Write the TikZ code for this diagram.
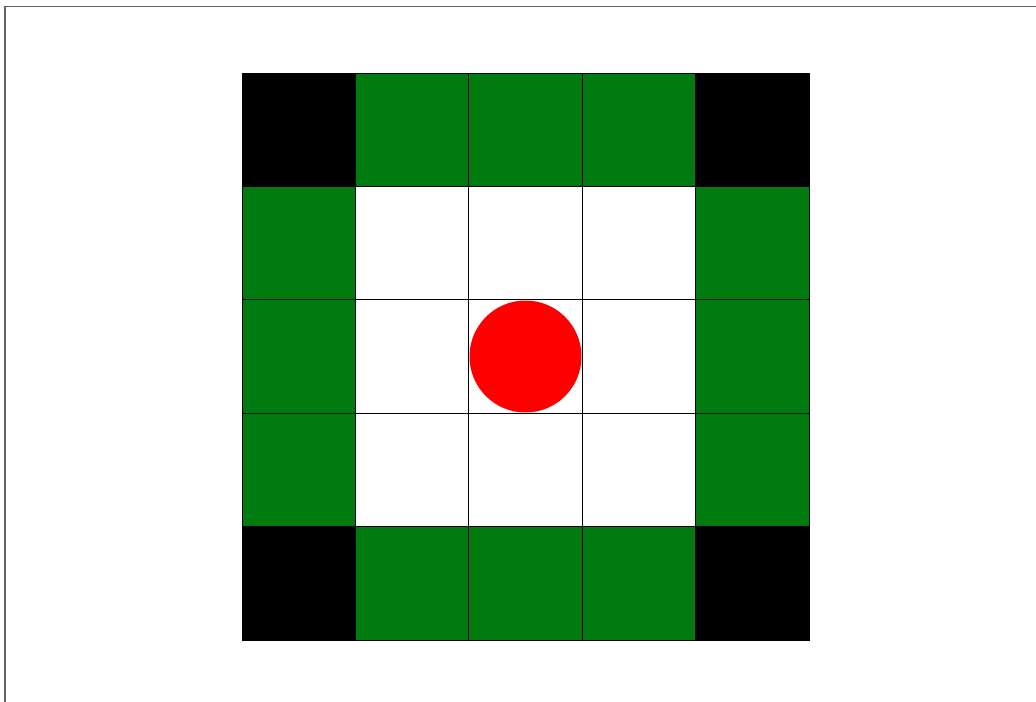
\documentclass[tikz,border=0pt]{standalone}
\usepackage{tikz}
\definecolor{boardgreen}{RGB}{0,123,15}
\definecolor{boardred}{RGB}{255,0,0}
\definecolor{framegray}{RGB}{100,100,100}
\usetikzlibrary{positioning}

\begin{document}
\begin{tikzpicture}[
  cell/.style={draw=black,line width=0.5pt,minimum size=2.268cm,inner sep=0pt,outer sep=0pt},
  token/.style={circle,fill=boardred,minimum size=2.24cm,inner sep=0pt}
]
  \useasboundingbox (0,0) rectangle (20.72,-14.02);
  \clip (0,0) rectangle (20.72,-14.02);
  \draw[framegray,line width=0.8pt] (0.1,-15) -- (0.1,-0.13) -- (21,-0.13);
  % corner cells
  \foreach \c/\r in {0/0,4/0,0/4,4/4}
    \node[cell,fill=black] (cell-\c-\r) at ({4.84+2.268*(\c+0.5)},{-1.46-2.268*(\r+0.5)}) {};
  % edge cells
  \foreach \c/\r in {1/0,2/0,3/0,1/4,2/4,3/4,0/1,0/2,0/3,4/1,4/2,4/3}
    \node[cell,fill=boardgreen] (cell-\c-\r) at ({4.84+2.268*(\c+0.5)},{-1.46-2.268*(\r+0.5)}) {};
  % inner cells
  \foreach \c in {1,2,3}
    \foreach \r in {1,2,3}
      \node[cell,fill=white] (cell-\c-\r) at ({4.84+2.268*(\c+0.5)},{-1.46-2.268*(\r+0.5)}) {};
  \node[token] (piece) at (cell-2-2) {};
\end{tikzpicture}
\end{document}
